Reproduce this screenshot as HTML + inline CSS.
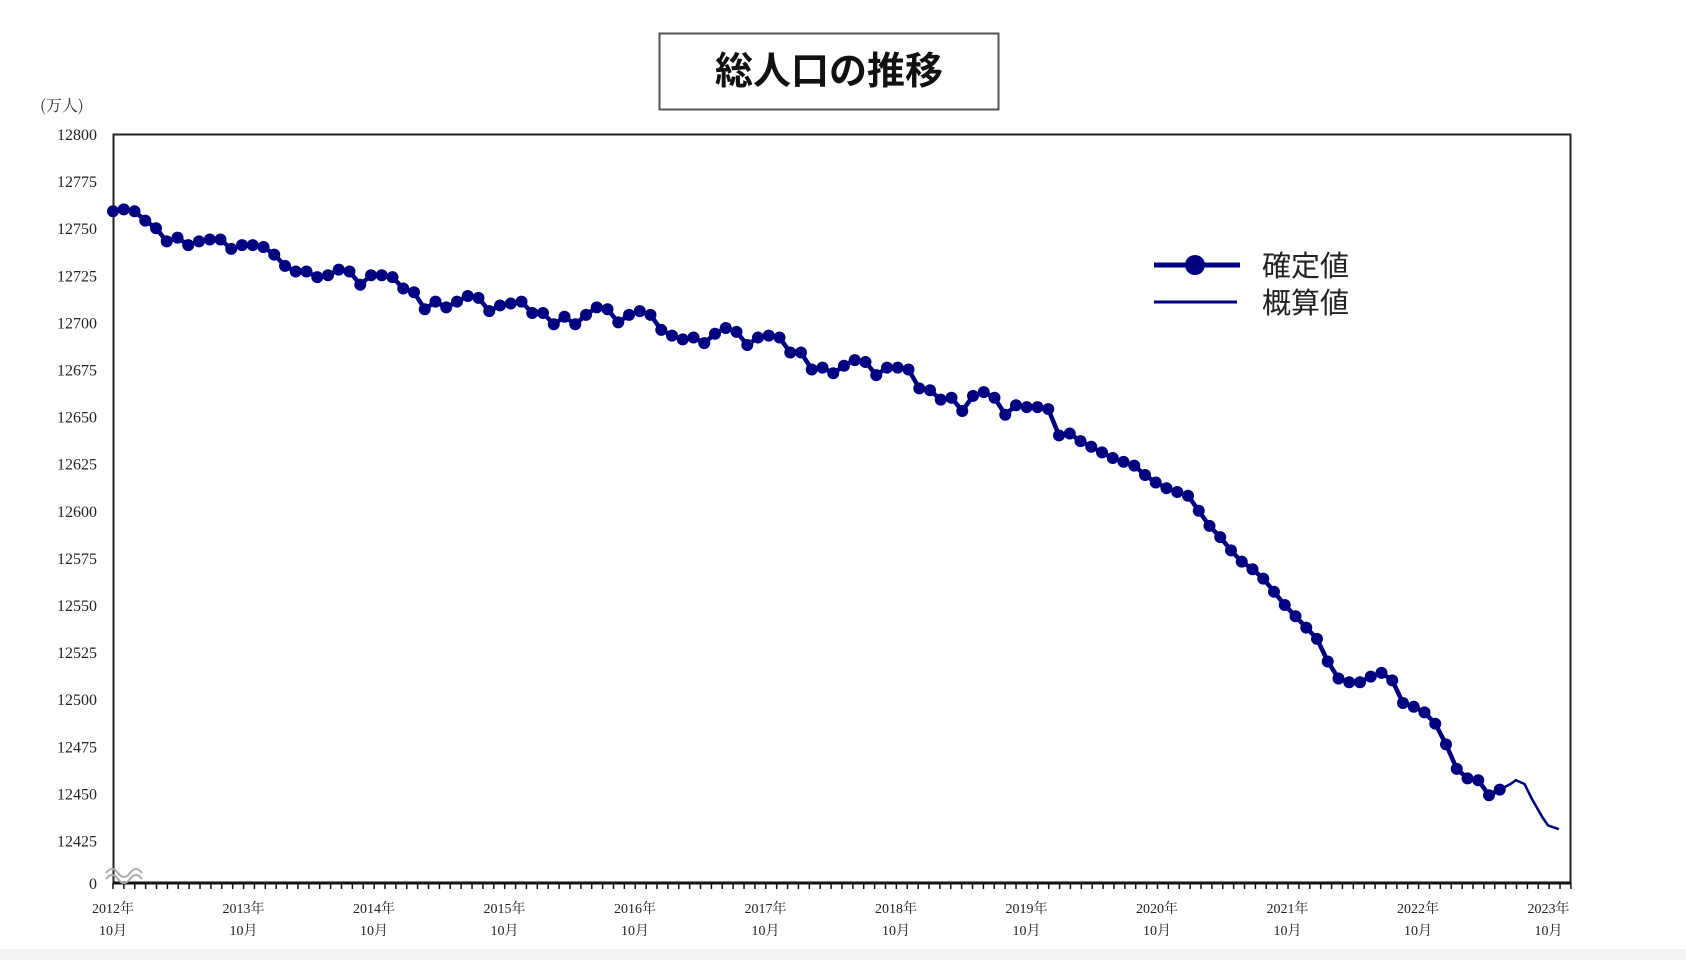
<!DOCTYPE html>
<html><head><meta charset="utf-8">
<style>
html,body{margin:0;padding:0;background:#fff;}
body{width:1686px;height:960px;position:relative;overflow:hidden;font-family:"Liberation Serif","Noto Serif CJK SC",serif;}
</style></head>
<body>
<svg id="s" width="1686" height="960" xmlns="http://www.w3.org/2000/svg" style="position:absolute;left:0;top:0">
<rect x="0" y="949" width="1686" height="11" fill="#f4f4f4"/>
<rect x="659.5" y="33.5" width="339" height="76" fill="#fff" stroke="#555" stroke-width="2"/>
<text x="829" y="84" text-anchor="middle" font-size="38" font-weight="bold" font-family="'Noto Sans CJK JP',sans-serif" fill="#111">総人口の推移</text>
<text x="40" y="111" font-size="16" fill="#333" font-family="'Noto Serif CJK SC',serif">(万人)</text>
<rect x="113.5" y="134.5" width="1457" height="748" fill="none" stroke="#222" stroke-width="2"/>
<line x1="113" y1="883" x2="1571" y2="883" stroke="#111" stroke-width="3"/>
<g id="yl" font-size="16" fill="#222" text-anchor="end"></g>
<g id="xl" font-size="14" fill="#222" text-anchor="middle"></g>
<g id="tk" stroke="#111" stroke-width="1.5"></g>
<path d="M106 873 q6 -8 12 0 t12 0 t12 0 M106 879 q6 -8 12 0 t12 0 t12 0" fill="none" stroke="#aaa" stroke-width="2"/>
<g id="d"></g>
<line x1="1154" y1="265" x2="1240" y2="265" stroke="#000080" stroke-width="5"/>
<circle cx="1195" cy="265" r="10" fill="#000080"/>
<line x1="1154" y1="302" x2="1237" y2="302" stroke="#000080" stroke-width="3"/>
<text x="1262" y="276" font-size="29" fill="#222" font-family="'Noto Sans CJK JP',sans-serif">確定値</text>
<text x="1262" y="313" font-size="29" fill="#222" font-family="'Noto Sans CJK JP',sans-serif">概算値</text>
</svg>
<script>
var NS="http://www.w3.org/2000/svg";
function el(t,a,p,txt){var e=document.createElementNS(NS,t);for(var k in a)e.setAttribute(k,a[k]);if(txt)e.textContent=txt;document.getElementById(p).appendChild(e);return e;}
function Y(v){return 134+(12800-v)*1.884;}
function X(x){return 113+(x-105)*1.075;}
for(var v=12800;v>=12425;v-=25){el('text',{x:97,y:Y(v)+6},'yl',String(v));}
el('text',{x:97,y:889},'yl','0');
for(var i=0;i<12;i++){var cx=113+i*130.5;
el('text',{x:cx,y:913},'xl',(2012+i)+'年');el('text',{x:cx,y:935},'xl','10月');}
for(var m=0;m<=134;m++){var tx=113+m*10.88;el('line',{x1:tx,y1:883,x2:tx,y2:889},'tk');}
var vals=[12759,12760,12759,12754,12750,12743,12745,12741,12743,12744,12744,12739,12741,12741,12740,12736,12730,12727,12727,12724,12725,12728,12727,12720,12725,12725,12724,12718,12716,12707,12711,12708,12711,12714,12713,12706,12709,12710,12711,12705,12705,12699,12703,12699,12704,12708,12707,12700,12704,12706,12704,12696,12693,12691,12692,12689,12694,12697,12695,12688,12692,12693,12692,12684,12684,12675,12676,12673,12677,12680,12679,12672,12676,12676,12675,12665,12664,12659,12660,12653,12661,12663,12660,12651,12656,12655,12655,12654,12640,12641,12637,12634,12631,12628,12626,12624,12619,12615,12612,12610,12608,12600,12592,12586,12579,12573,12569,12564,12557,12550,12544,12538,12532,12520,12511,12509,12509,12512,12514,12510,12498,12496,12493,12487,12476,12463,12458,12457,12449,12452];
var pts=[];for(var i=0;i<vals.length;i++){pts.push([X(105+i*10),Y(vals[i])]);}
var s=pts.map(function(p){return p[0].toFixed(1)+','+p[1].toFixed(1)}).join(' ');
el('polyline',{points:s,fill:'none',stroke:'#000080','stroke-width':4.5},'d');
pts.forEach(function(p){el('circle',{cx:p[0],cy:p[1],r:6,fill:'#000080'},'d');});
var th=[[1395,12452],[1405,12455],[1410,12457],[1418,12455],[1425,12447],[1435,12437],[1440,12433],[1450,12431]];
el('polyline',{points:th.map(function(p){return X(p[0]).toFixed(1)+','+Y(p[1]).toFixed(1)}).join(' '),fill:'none',stroke:'#000080','stroke-width':2.5},'d');
</script>
</body></html>
